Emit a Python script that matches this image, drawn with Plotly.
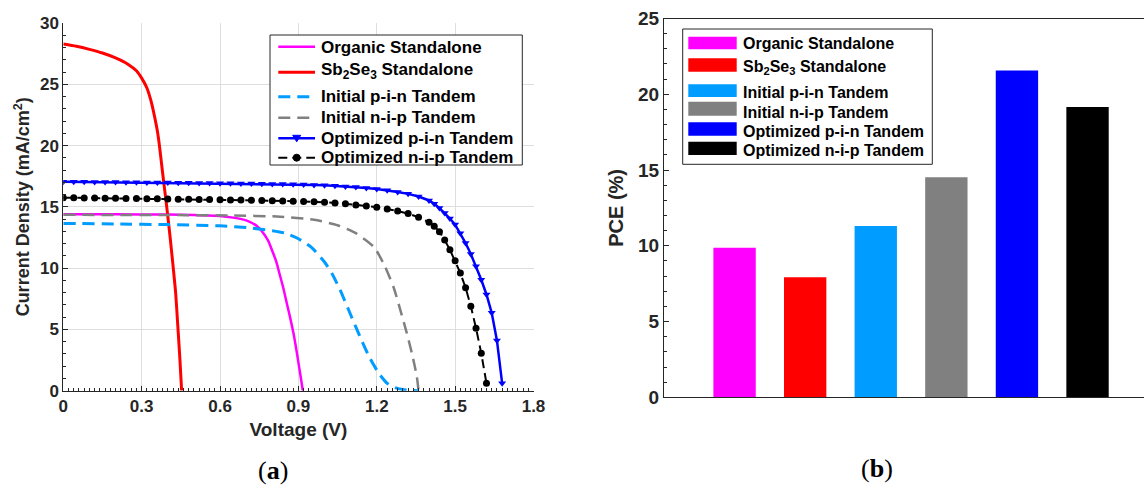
import plotly.graph_objects as go

W, H = 1144, 488

# ---------------- J-V curves: voltage (V) / current density (mA/cm^2) ----------------
organic_v = [0.0, 0.2, 0.4, 0.5, 0.6, 0.65, 0.7, 0.74, 0.766, 0.785, 0.8, 0.815, 0.827,
             0.842, 0.856, 0.869, 0.881, 0.891, 0.9, 0.909, 0.917]
organic_j = [14.40, 14.39, 14.37, 14.34, 14.26, 14.12, 13.9, 13.45, 12.85, 12.2, 11.4, 10.55, 9.6,
             8.4, 7.1, 5.9, 4.7, 3.5, 2.3, 1.1, 0.0]

sb2se3_v = [0.0, 0.05, 0.1, 0.15, 0.2, 0.25, 0.28, 0.3, 0.32, 0.335, 0.35, 0.36, 0.368,
            0.38, 0.396, 0.41, 0.421, 0.43, 0.438, 0.446, 0.453]
sb2se3_j = [28.28, 28.1, 27.85, 27.55, 27.15, 26.6, 26.1, 25.5, 24.7, 23.7, 22.3, 21.2, 20.0,
            17.8, 15.0, 12.3, 10.0, 8.0, 5.4, 2.7, 0.0]

init_pin_v = [0.0, 0.2, 0.4, 0.6, 0.715, 0.8, 0.85, 0.9, 0.95, 1.0, 1.03, 1.06, 1.1,
              1.14, 1.175, 1.21, 1.24, 1.27, 1.3, 1.33, 1.36]
init_pin_j = [13.65, 13.6, 13.55, 13.45, 13.28, 13.05, 12.85, 12.4, 11.7, 10.5, 9.5, 8.2, 6.2,
              4.2, 2.6, 1.35, 0.6, 0.25, 0.1, 0.04, 0.0]

init_nip_v = [0.0, 0.4, 0.64, 0.83, 0.96, 1.05, 1.12, 1.19, 1.23, 1.265, 1.29, 1.315,
              1.335, 1.353, 1.36]
init_nip_j = [14.35, 14.33, 14.3, 14.2, 13.95, 13.5, 12.85, 11.7, 10.2, 8.4, 6.6, 4.7,
              3.0, 1.2, 0.0]

opt_pin_v = [0.00, 0.04, 0.08, 0.12, 0.16, 0.20, 0.24, 0.28, 0.32, 0.36, 0.40, 0.44,
             0.48, 0.52, 0.56, 0.60, 0.64, 0.68, 0.72, 0.76, 0.80, 0.84, 0.88, 0.92,
             0.96, 1.00, 1.04, 1.08, 1.12, 1.16, 1.20, 1.24, 1.28, 1.32, 1.36, 1.40,
             1.42, 1.44, 1.46, 1.48, 1.50, 1.52, 1.54, 1.56, 1.58, 1.60, 1.62, 1.64,
             1.66, 1.68]
opt_pin_j = [17.05, 17.04, 17.04, 17.03, 17.02, 17.02, 17.01, 17.00, 16.99, 16.99, 16.98, 16.97,
             16.96, 16.95, 16.94, 16.93, 16.92, 16.91, 16.90, 16.88, 16.87, 16.86, 16.84, 16.82,
             16.79, 16.76, 16.72, 16.67, 16.61, 16.54, 16.45, 16.35, 16.22, 16.06, 15.84, 15.52,
             15.25, 14.90, 14.50, 14.05, 13.55, 12.85, 12.05, 11.15, 10.15, 9.05, 7.85, 6.35,
             4.1, 0.6]

opt_nip_v = [0.00, 0.04, 0.08, 0.12, 0.16, 0.20, 0.24, 0.28, 0.32, 0.36, 0.40, 0.44,
             0.48, 0.52, 0.56, 0.60, 0.64, 0.68, 0.72, 0.76, 0.80, 0.84, 0.88, 0.92,
             0.96, 1.00, 1.04, 1.08, 1.12, 1.16, 1.20, 1.24, 1.28, 1.32, 1.36, 1.40,
             1.42, 1.44, 1.46, 1.48, 1.50, 1.52, 1.54, 1.56, 1.58, 1.60, 1.62]
opt_nip_j = [15.75, 15.74, 15.73, 15.72, 15.71, 15.70, 15.69, 15.68, 15.67, 15.66, 15.64, 15.63,
             15.62, 15.60, 15.59, 15.58, 15.56, 15.55, 15.53, 15.52, 15.50, 15.48, 15.46, 15.44,
             15.41, 15.37, 15.32, 15.25, 15.16, 15.07, 14.96, 14.82, 14.66, 14.45, 14.15, 13.75,
             13.42, 12.97, 12.30, 11.50, 10.60, 9.60, 8.40, 6.90, 5.10, 3.05, 0.60]

# ---------------- PCE bar data ----------------
devices = ["Organic Standalone", "Sb<sub>2</sub>Se<sub>3</sub> Standalone",
           "Initial p-i-n Tandem", "Initial n-i-p Tandem",
           "Optimized p-i-n Tandem", "Optimized n-i-p Tandem"]
pce = [9.87, 7.92, 11.31, 14.52, 21.56, 19.16]
bar_pos = [1, 2, 3, 4, 5, 6]
colors = ["#FF00FF", "#FF0000", "#009CFF", "#808080", "#0000FF", "#000000"]

AX = "#262626"
FONT = "Liberation Sans, Arial, Helvetica, sans-serif"
SERIF = "Liberation Serif, Times New Roman, serif"


def px_x(p):
    return p / W


def px_y(p):
    return 1 - p / H


# line styles of the J-V curves (shared by the traces and their legend keys)
styles = [
    dict(color=colors[0], width=2.5, dash="solid"),
    dict(color=colors[1], width=3, dash="solid"),
    dict(color=colors[2], width=3, dash="12px,7px"),
    dict(color=colors[3], width=2.5, dash="12px,7px"),
    dict(color=colors[4], width=2.5, dash="solid"),
    dict(color=colors[5], width=2, dash="9px,5px"),
]

fig = go.Figure()

curves = [(organic_v, organic_j), (sb2se3_v, sb2se3_j), (init_pin_v, init_pin_j),
          (init_nip_v, init_nip_j)]
for (v, j), st, name in zip(curves, styles[:4], devices[:4]):
    fig.add_trace(go.Scatter(x=v, y=j, name=name, mode="lines", showlegend=False,
                             line=dict(st, shape="spline", smoothing=0.6)))
fig.add_trace(go.Scatter(x=opt_pin_v, y=opt_pin_j, name=devices[4], mode="lines+markers",
                         showlegend=False, line=styles[4],
                         marker=dict(symbol="triangle-down", size=7, color=colors[4])))
fig.add_trace(go.Scatter(x=opt_nip_v, y=opt_nip_j, name=devices[5], mode="lines+markers",
                         showlegend=False, line=styles[5],
                         marker=dict(symbol="circle", size=7, color=colors[5])))

# PCE bars (right panel)
fig.add_trace(go.Bar(x=bar_pos, y=pce, width=0.6, marker=dict(color=colors, line=dict(width=0)),
                     xaxis="x2", yaxis="y2", showlegend=False))

tickfont = dict(family=FONT, size=17, color=AX, weight="bold")
fig.update_layout(
    template="none",
    width=W, height=H,
    margin=dict(l=0, r=0, t=0, b=0, autoexpand=False),
    paper_bgcolor="white", plot_bgcolor="white",
    font=dict(family=FONT, color=AX, size=16, weight="bold"),
    showlegend=False,
    xaxis=dict(domain=[px_x(63.3), px_x(533.5)], range=[0, 1.8], dtick=0.3, tick0=0,
               automargin=False,
               showgrid=True, gridcolor="#dedede", gridwidth=1, zeroline=False,
               showline=True, linecolor=AX, linewidth=1,
               ticks="inside", ticklen=5, tickcolor=AX,
               minor=dict(dtick=0.02, ticks="inside", ticklen=3, tickcolor=AX, showgrid=False),
               tickfont=tickfont,
               title=dict(text="Voltage (V)", font=dict(size=19, color=AX, weight="bold"),
                          standoff=7),
               anchor="y"),
    yaxis=dict(domain=[px_y(390.7), px_y(23)], range=[0, 30], dtick=5, tick0=0,
               automargin=False,
               showgrid=True, gridcolor="#dedede", gridwidth=1, zeroline=False,
               showline=True, linecolor=AX, linewidth=1,
               ticks="inside", ticklen=5, tickcolor=AX,
               minor=dict(dtick=1, ticks="inside", ticklen=3, tickcolor=AX, showgrid=False),
               tickfont=tickfont,
               title=dict(text="Current Density (mA/cm<sup>2</sup>)",
                          font=dict(size=18, color=AX, weight="bold"), standoff=5),
               anchor="x"),
    xaxis2=dict(domain=[px_x(664), 1.0], range=[0, 6.8], showticklabels=False, ticks="",
                automargin=False,
                showgrid=False, zeroline=False, showline=True, linecolor=AX, linewidth=1,
                mirror=True, anchor="y2"),
    yaxis2=dict(domain=[px_y(397.3), px_y(18.5)], range=[0, 25], dtick=5, tick0=0,
                automargin=False,
                showgrid=False, zeroline=False, showline=True, linecolor=AX, linewidth=1,
                ticks="inside", ticklen=5, tickcolor=AX,
                minor=dict(dtick=1, ticks="inside", ticklen=3, tickcolor=AX, showgrid=False),
                tickfont=dict(tickfont, size=19),
                title=dict(text="PCE (%)", font=dict(size=20, color=AX, weight="bold"),
                           standoff=9),
                anchor="x2"),
)

shapes = []
annotations = []

# Legend of the J-V panel: line keys with labels inside a framed box
shapes.append(dict(type="rect", xref="paper", yref="paper",
                   x0=px_x(270), x1=px_x(522.3), y0=px_y(165), y1=px_y(35),
                   line=dict(color=AX, width=1), fillcolor="white", layer="above"))
jv_rows = [(46.7, 47.3), (72.3, 71.0), (96.7, 96.7), (117.7, 117.5), (138.3, 138.3),
           (157.7, 157.7)]
key_x0, key_x1, key_mid = 278.3, 315.0, 296.7
for (ly, ty), st, label in zip(jv_rows, styles, devices):
    shapes.append(dict(type="line", xref="paper", yref="paper",
                       x0=px_x(key_x0), x1=px_x(key_x1), y0=px_y(ly), y1=px_y(ly),
                       line=dict(color=st["color"], width=st["width"], dash=st["dash"]),
                       layer="above"))
    annotations.append(dict(text=label, xref="paper", yref="paper",
                            x=px_x(319.3), y=px_y(ty), xanchor="left", yanchor="middle",
                            showarrow=False,
                            font=dict(family=FONT, size=17, color="black", weight="bold")))
# marker glyphs on the two optimized keys
tri_y = jv_rows[4][0]
shapes.append(dict(type="path", xref="paper", yref="paper",
                   path=(f"M {px_x(key_mid - 4)} {px_y(tri_y - 3)} "
                         f"L {px_x(key_mid + 4)} {px_y(tri_y - 3)} "
                         f"L {px_x(key_mid)} {px_y(tri_y + 3.5)} Z"),
                   line=dict(color=colors[4], width=1), fillcolor=colors[4], layer="above"))
circ_y = jv_rows[5][0]
shapes.append(dict(type="circle", xref="paper", yref="paper",
                   x0=px_x(key_mid - 3.5), x1=px_x(key_mid + 3.5),
                   y0=px_y(circ_y + 3.5), y1=px_y(circ_y - 3.5),
                   line=dict(color=colors[5], width=1), fillcolor=colors[5], layer="above"))

# Legend of the PCE panel: coloured swatches with labels inside a framed box
shapes.append(dict(type="rect", xref="paper", yref="paper",
                   x0=px_x(682.7), x1=px_x(932.3), y0=px_y(164.3), y1=px_y(29),
                   line=dict(color=AX, width=1), fillcolor="white", layer="above"))
swatch_rows = [(36.7, 49.3, 44), (58.3, 71.7, 67), (84.3, 97, 92.5),
               (101.7, 115.7, 112), (122.3, 135.7, 131.5), (141.7, 155, 151)]
for (top, bottom, mid), label, col in zip(swatch_rows, devices, colors):
    shapes.append(dict(type="rect", xref="paper", yref="paper",
                       x0=px_x(688.3), x1=px_x(736.7), y0=px_y(bottom), y1=px_y(top),
                       line=dict(width=0), fillcolor=col, layer="above"))
    annotations.append(dict(text=label, xref="paper", yref="paper",
                            x=px_x(740.7), y=px_y(mid), xanchor="left", yanchor="middle",
                            showarrow=False,
                            font=dict(family=FONT, size=16, color="black", weight="bold")))

# Panel captions
for cap, cx, cy in [("(<b>a</b>)", 273, 470), ("(<b>b</b>)", 877, 468)]:
    annotations.append(dict(text=cap, xref="paper", yref="paper", x=px_x(cx), y=px_y(cy),
                            xanchor="center", yanchor="middle", showarrow=False,
                            font=dict(family=SERIF, size=26, color="black", weight="normal")))

fig.update_layout(shapes=shapes, annotations=annotations)

fig.write_html("out.html")
